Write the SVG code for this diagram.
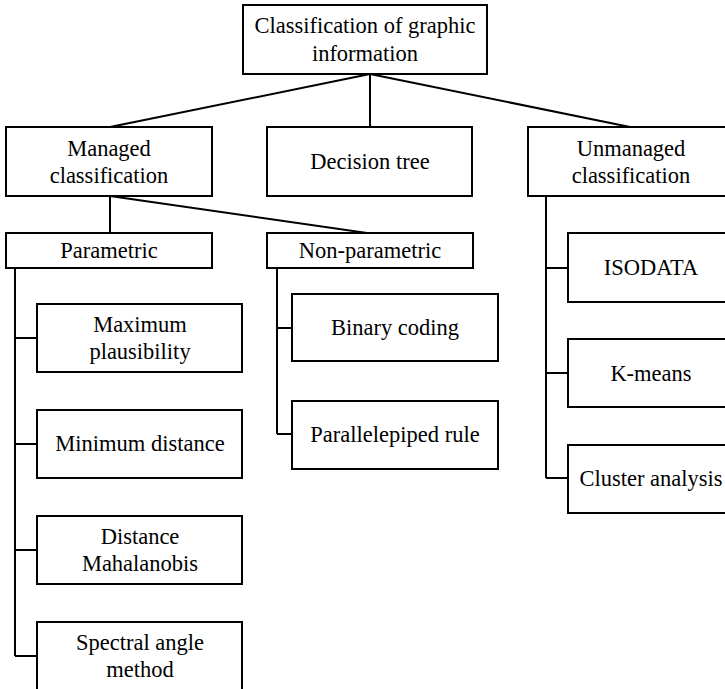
<svg xmlns="http://www.w3.org/2000/svg" width="725" height="689" viewBox="0 0 725 689">
<style>
rect{fill:#fff;stroke:#000;stroke-width:2}
.c line,.c path{stroke:#000;stroke-width:2;fill:none}
text{font-family:"Liberation Serif","Times New Roman",serif;font-size:22.5px;fill:#000;text-anchor:middle}
</style>
<rect x="0" y="0" width="725" height="689" style="stroke:none"/>
<g class="c" id="connectors">
<line x1="370" y1="74" x2="110" y2="127"/>
<line x1="370" y1="74" x2="370" y2="127"/>
<line x1="370" y1="74" x2="630" y2="127"/>
<line x1="110" y1="196" x2="110" y2="233"/>
<line x1="110" y1="196" x2="367" y2="233"/>
<path d="M15 268V656M15 338H37M15 444H37M15 550H37M15 656H37"/>
<path d="M277 268V434M277 328H292M277 434H292"/>
<path d="M546 196V478M546 268H568M546 373H568M546 478H568"/>
</g>
<g id="root"><rect x="243" y="5" width="244" height="69"/><text x="365" y="33">Classification of graphic</text><text x="365" y="61">information</text></g>
<g id="managed"><rect x="6" y="127" width="206" height="69"/><text x="109" y="156">Managed</text><text x="109" y="183">classification</text></g>
<g id="decision"><rect x="267" y="127" width="205" height="69"/><text x="370" y="169">Decision tree</text></g>
<g id="unmanaged"><rect x="528" y="127" width="206" height="69"/><text x="631" y="156">Unmanaged</text><text x="631" y="183">classification</text></g>
<g id="parametric"><rect x="6" y="233" width="206" height="35"/><text x="109" y="258">Parametric</text></g>
<g id="nonparametric"><rect x="267" y="233" width="206" height="35"/><text x="370" y="258">Non-parametric</text></g>
<g id="maxplaus"><rect x="37" y="304" width="205" height="68"/><text x="140" y="332">Maximum</text><text x="140" y="359">plausibility</text></g>
<g id="mindist"><rect x="37" y="410" width="205" height="68"/><text x="140" y="451">Minimum distance</text></g>
<g id="mahal"><rect x="37" y="516" width="205" height="68"/><text x="140" y="544">Distance</text><text x="140" y="571">Mahalanobis</text></g>
<g id="spectral"><rect x="37" y="622" width="205" height="68"/><text x="140" y="650">Spectral angle</text><text x="140" y="677">method</text></g>
<g id="binary"><rect x="292" y="294" width="206" height="67"/><text x="395" y="335">Binary coding</text></g>
<g id="parallel"><rect x="292" y="401" width="206" height="68"/><text x="395" y="442">Parallelepiped rule</text></g>
<g id="isodata"><rect x="568" y="233" width="166" height="69"/><text x="651" y="275">ISODATA</text></g>
<g id="kmeans"><rect x="568" y="339" width="166" height="68"/><text x="651" y="381">K-means</text></g>
<g id="cluster"><rect x="568" y="445" width="166" height="68"/><text x="651" y="486">Cluster analysis</text></g>
</svg>
